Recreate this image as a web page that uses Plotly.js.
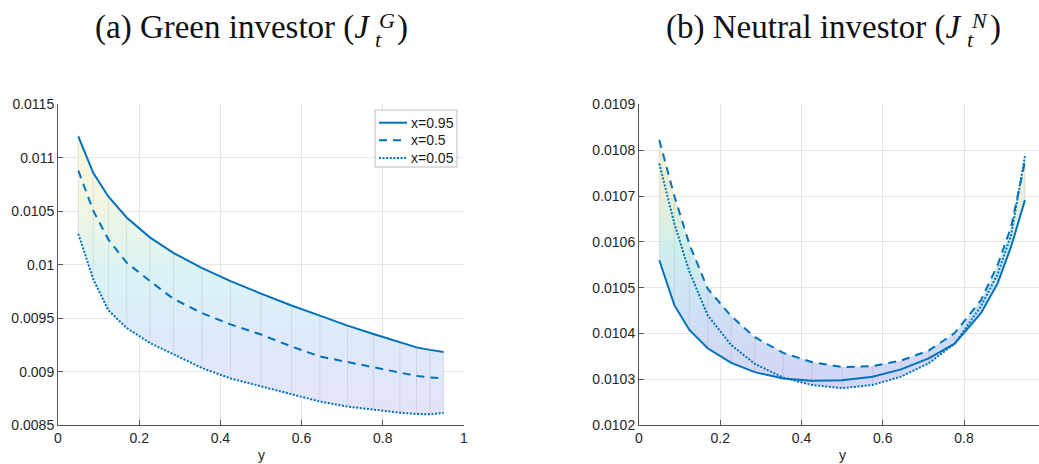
<!DOCTYPE html>
<html>
<head>
<meta charset="utf-8">
<script src="https://cdn.plot.ly/plotly-3.0.1.min.js"></script>
<style>
  html, body { margin: 0; padding: 0; background: #ffffff; }
  #chart { width: 1039px; height: 464px; }
</style>
</head>
<body>
<div id="chart"></div>
<script>
// Grid of y values where the value functions are evaluated
const yGrid = [0.05, 0.087, 0.124, 0.169, 0.227, 0.285, 0.355, 0.425, 0.5,
               0.575, 0.645, 0.713, 0.777, 0.842, 0.883, 0.916, 0.95];

// (a) Green investor J_t^G for three levels of x
const greenX95 = [0.011200, 0.010857, 0.010639, 0.010442, 0.010254, 0.010110, 0.009968, 0.009848, 0.009731,
                  0.009620, 0.009525, 0.009432, 0.009353, 0.009275, 0.009228, 0.009205, 0.009185];
const greenX50 = [0.010880, 0.010504, 0.010238, 0.010020, 0.009847, 0.009680, 0.009548, 0.009443, 0.009348,
                  0.009237, 0.009143, 0.009090, 0.009040, 0.008990, 0.008962, 0.008948, 0.008940];
const greenX05 = [0.010290, 0.009863, 0.009575, 0.009410, 0.009268, 0.009165, 0.009035, 0.008938, 0.008862,
                  0.008786, 0.008722, 0.008675, 0.008645, 0.008618, 0.008606, 0.008603, 0.008614];

// (b) Neutral investor J_t^N for three levels of x
const neutralX95 = [0.010560, 0.010462, 0.010408, 0.010368, 0.010336, 0.010316, 0.010302, 0.010297, 0.010298,
                    0.010306, 0.010322, 0.010346, 0.010378, 0.010445, 0.010510, 0.010590, 0.010691];
const neutralX50 = [0.010822, 0.010700, 0.010595, 0.010498, 0.010438, 0.010392, 0.010358, 0.010338, 0.010327,
                    0.010329, 0.010341, 0.010363, 0.010401, 0.010473, 0.010550, 0.010633, 0.010775];
const neutralX05 = [0.010771, 0.010640, 0.010535, 0.010440, 0.010375, 0.010334, 0.010304, 0.010288, 0.010281,
                    0.010288, 0.010306, 0.010335, 0.010378, 0.010460, 0.010530, 0.010615, 0.010787];

const seriesNames = ['x=0.95', 'x=0.5', 'x=0.05'];
const greenTicks = [0.0085, 0.009, 0.0095, 0.01, 0.0105, 0.011, 0.0115];
const greenTickText = ['0.0085', '0.009', '0.0095', '0.01', '0.0105', '0.011', '0.0115'];
const neutralTicks = [0.0102, 0.0103, 0.0104, 0.0105, 0.0106, 0.0107, 0.0108, 0.0109];
const neutralTickText = ['0.0102', '0.0103', '0.0104', '0.0105', '0.0106', '0.0107', '0.0108', '0.0109'];
const xTicks = [0, 0.2, 0.4, 0.6, 0.8, 1];
const xTickText = ['0', '0.2', '0.4', '0.6', '0.8', '1'];

const W = 1039, H = 464;
const px = v => v / W;
const py = v => (H - v) / H;

const BLUE = '#0072BD';
const dashes = ['solid', '8px,6px', '2px,1.6px'];

// Envelope of the three curves, filled with a value-coloured gradient
function band(xa, ya, series, cmin, cmax, scale) {
  const hi = yGrid.map((_, i) => Math.max(...series.map(s => s[i])));
  const lo = yGrid.map((_, i) => Math.min(...series.map(s => s[i])));
  const fillTrace = {
    x: yGrid.concat(yGrid.slice().reverse()),
    y: hi.concat(lo.slice().reverse()),
    xaxis: xa, yaxis: ya,
    type: 'scatter', mode: 'lines', fill: 'toself',
    line: { width: 0 },
    fillgradient: { type: 'vertical', colorscale: scale, start: cmin, stop: cmax },
    hoverinfo: 'skip', showlegend: false
  };
  // faint mesh lines across the band at each grid point
  const mx = [], my = [];
  yGrid.forEach((g, i) => { mx.push(g, g, null); my.push(lo[i], hi[i], null); });
  const meshTrace = {
    x: mx, y: my, xaxis: xa, yaxis: ya, type: 'scatter', mode: 'lines',
    line: { color: 'rgba(110,110,110,0.22)', width: 0.7 },
    hoverinfo: 'skip', showlegend: false
  };
  return [fillTrace, meshTrace];
}

function curves(xa, ya, series) {
  return series.map((s, k) => ({
    x: yGrid, y: s, xaxis: xa, yaxis: ya, type: 'scatter', mode: 'lines',
    name: seriesNames[k], showlegend: false,
    line: { color: BLUE, width: 2, dash: dashes[k] }
  }));
}

const greenScale = [[0, 'rgb(229,227,247)'], [0.25, 'rgb(222,233,250)'], [0.5, 'rgb(218,243,246)'],
                    [0.75, 'rgb(240,246,226)'], [1, 'rgb(252,246,215)']];
const neutralScale = [[0, 'rgb(212,211,244)'], [0.3, 'rgb(207,224,246)'], [0.55, 'rgb(206,238,238)'],
                      [0.78, 'rgb(232,239,214)'], [1, 'rgb(243,236,204)']];

const greenSeries = [greenX95, greenX50, greenX05];
const neutralSeries = [neutralX95, neutralX50, neutralX05];

const data = []
  .concat(band('x', 'y', greenSeries, 0.0086, 0.0112, greenScale))
  .concat(band('x2', 'y2', neutralSeries, 0.01028, 0.01082, neutralScale))
  .concat(curves('x', 'y', greenSeries))
  .concat(curves('x2', 'y2', neutralSeries));

const sans = 'Liberation Sans, Arial, sans-serif';
const tickFont = { family: sans, size: 14, color: '#262626' };
const axisCommon = {
  showline: true, linecolor: '#555555', linewidth: 1,
  ticks: 'inside', ticklen: 5, tickcolor: '#555555', tickwidth: 1,
  showgrid: true, gridcolor: '#e6e6e6', gridwidth: 1,
  zeroline: false, tickfont: tickFont, fixedrange: true
};

const yDomain = [py(425.3), py(104.3)];

const layout = {
  width: W, height: H,
  margin: { l: 0, r: 0, t: 0, b: 0 },
  paper_bgcolor: '#ffffff', plot_bgcolor: '#ffffff',
  showlegend: false,
  xaxis: Object.assign({}, axisCommon, {
    domain: [px(58), px(464)], range: [0, 1], anchor: 'y',
    tickvals: xTicks, ticktext: xTickText
  }),
  yaxis: Object.assign({}, axisCommon, {
    domain: yDomain, range: [0.0085, 0.0115], anchor: 'x',
    tickvals: greenTicks, ticktext: greenTickText
  }),
  xaxis2: Object.assign({}, axisCommon, {
    domain: [px(639), 1], range: [0, (W - 639) / 406.25], anchor: 'y2',
    tickvals: xTicks, ticktext: xTickText
  }),
  yaxis2: Object.assign({}, axisCommon, {
    domain: yDomain, range: [0.0102, 0.0109], anchor: 'x2',
    tickvals: neutralTicks, ticktext: neutralTickText
  }),
  shapes: [],
  annotations: []
};

// Legend box for panel (a)
layout.shapes.push({
  type: 'rect', xref: 'paper', yref: 'paper',
  x0: px(375), x1: px(457), y0: py(167), y1: py(110),
  line: { color: '#bcbcbc', width: 1 }, fillcolor: '#ffffff', layer: 'above'
});
const legendRows = [122.7, 140.3, 158];
seriesNames.forEach((name, k) => {
  layout.shapes.push({
    type: 'line', xref: 'paper', yref: 'paper',
    x0: px(379), x1: px(407), y0: py(legendRows[k]), y1: py(legendRows[k]),
    line: { color: BLUE, width: 2, dash: dashes[k] }, layer: 'above'
  });
  layout.annotations.push({
    text: name, x: px(409), y: py(legendRows[k]), xref: 'paper', yref: 'paper',
    xanchor: 'left', yanchor: 'middle', showarrow: false,
    font: { family: sans, size: 14, color: '#1a1a1a' }
  });
});

// Panel titles with a stacked sub/superscript on J
const serif = 'Liberation Serif, Times New Roman, serif';
function panelTitle(label, sup, jRight, closeLeft) {
  const out = [];
  out.push({ text: label + ' (<i>J</i>', x: px(jRight), y: py(27), xref: 'paper', yref: 'paper',
             xanchor: 'right', yanchor: 'middle', showarrow: false,
             font: { family: serif, size: 33, color: '#111111' } });
  out.push({ text: '<i>' + sup + '</i>', x: px(jRight + 5), y: py(21), xref: 'paper', yref: 'paper',
             xanchor: 'left', yanchor: 'middle', showarrow: false,
             font: { family: serif, size: 22, color: '#111111' } });
  out.push({ text: '<i>t</i>', x: px(jRight + 1), y: py(40), xref: 'paper', yref: 'paper',
             xanchor: 'left', yanchor: 'middle', showarrow: false,
             font: { family: serif, size: 22, color: '#111111' } });
  out.push({ text: ')', x: px(closeLeft), y: py(27), xref: 'paper', yref: 'paper',
             xanchor: 'left', yanchor: 'middle', showarrow: false,
             font: { family: serif, size: 33, color: '#111111' } });
  return out;
}
layout.annotations = layout.annotations
  .concat(panelTitle('(a) Green investor', 'G', 372, 395))
  .concat(panelTitle('(b) Neutral investor', 'N', 964, 988));

// x-axis titles
[261, 842].forEach(cx => {
  layout.annotations.push({
    text: 'y', x: px(cx), y: py(455), xref: 'paper', yref: 'paper',
    xanchor: 'center', yanchor: 'middle', showarrow: false,
    font: { family: sans, size: 14, color: '#262626' }
  });
});

Plotly.newPlot('chart', data, layout, { staticPlot: true, displayModeBar: false });
</script>
</body>
</html>
